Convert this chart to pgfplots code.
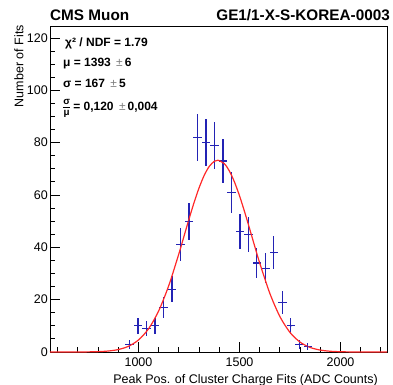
\documentclass[border=0pt]{standalone}
\usepackage{pgfplots}
\pgfplotsset{compat=1.18}
\usepackage{pgfplotstable}
\usepackage{amsmath}
\usepackage{fontspec}
\setmainfont{Liberation Sans}
\definecolor{rootblue}{RGB}{35,35,180}
\definecolor{rootred}{RGB}{255,40,40}
\newcommand{\tickfont}{\fontsize{12.5bp}{15bp}\selectfont}
\newcommand{\statfont}{\fontsize{12bp}{14bp}\selectfont\bfseries}
\newcommand{\pmg}{{\mdseries\color{gray}\,\textpm\,}}

\pgfplotstableread{
x     y   ex  ey
956   3   21  1.73
998   10  21  3.16
1040  9   21  3.00
1082  10  21  3.16
1124  17  21  4.12
1166  24  21  4.90
1208  41  21  6.40
1250  50  21  7.07
1292  82  21  9.06
1334  80  21  8.94
1376  79  21  8.89
1418  73  21  8.54
1460  61  21  7.81
1502  46  21  6.78
1544  45  21  6.71
1586  34  21  5.83
1628  32  21  5.66
1670  38  21  6.16
1712  19  21  4.36
1754  10  21  3.16
1796  3   21  1.73
1838  2   21  1.41
}\datatable

\pgfplotstableread{
x     y
562   0.0002
650   0.003
700   0.013
750   0.045
800   0.134
850   0.371
900   0.94
950   2.17
1000  4.60
1050  8.90
1100  15.73
1150  25.43
1200  37.58
1225  44.19
1250  50.80
1275  57.11
1300  62.77
1325  67.47
1350  70.91
1375  72.88
1393  73.30
1425  71.97
1450  69.15
1475  64.98
1500  59.70
1525  53.63
1550  47.12
1575  40.48
1600  34.00
1650  22.43
1700  13.53
1750  7.46
1800  3.76
1850  1.73
1900  0.73
1950  0.28
2000  0.10
2050  0.03
2100  0.009
2150  0.002
2230  0.0001
}\fittable

\begin{document}
\begin{tikzpicture}
\path[use as bounding box] (-50bp,-33bp) rectangle (343bp,352bp);
\begin{axis}[
  at={(0,0)}, anchor=south west,
  scale only axis,
  width=337bp, height=326bp,
  xmin=562, xmax=2230,
  ymin=0, ymax=124.6,
  axis line style={black, line width=0.9bp},
  xtick={1000,1500,2000},
  minor xtick={600,700,...,2200},
  ytick={0,20,...,120},
  minor ytick={5,10,...,120},
  tick align=inside,
  xtick pos=bottom, ytick pos=left,
  major tick length=9.5bp,
  minor tick length=5bp,
  tick style={line width=0.9bp, black},
  /pgf/number format/assume math mode=true,
  /pgf/number format/1000 sep={},
  xticklabel style={font=\tickfont, anchor=base, inner sep=0pt, yshift=-14bp},
  yticklabel style={font=\tickfont, anchor=east, inner sep=0pt, xshift=-2bp},
  clip=false,
]
\addplot[color=rootblue, line width=1.2bp, only marks, mark=*, mark size=0.01pt,
  error bars/.cd, x dir=both, x explicit, y dir=both, y explicit,
  error mark=none,
  error bar style={color=rootblue, line width=1.2bp}]
  table[x=x, y=y, x error=ex, y error=ey] {\datatable};
\addplot[rootred, line width=1.2bp, smooth, no marks] table[x=x, y=y] {\fittable};
\end{axis}
\node[anchor=base west, inner sep=0pt, font=\fontsize{15.3bp}{18bp}\selectfont\bfseries] at (0bp,331bp) {CMS Muon};
\node[anchor=base east, inner sep=0pt, font=\fontsize{15.3bp}{18bp}\selectfont\bfseries] at (340bp,331bp) {GE1/1-X-S-KOREA-0003};
\node[anchor=base west, inner sep=0pt, font=\statfont] at (15bp,305.3bp) {χ² / NDF = 1.79};
\node[anchor=base west, inner sep=0pt, font=\statfont] at (13bp,285.3bp) {μ = 1393 \pmg 6};
\node[anchor=base west, inner sep=0pt, font=\statfont] at (13bp,264.7bp) {σ = 167 \pmg 5};
\node[anchor=base west, inner sep=0pt, font=\statfont] at (12bp,241bp) {\raisebox{0.5bp}{\fontsize{14bp}{16bp}\selectfont$\frac{\text{σ}}{\text{μ}}$}\,= 0,120 \pmg 0,004};
\node[anchor=base east, inner sep=0pt, font=\tickfont] at (328bp,-31.5bp) {Peak Pos. of Cluster Charge Fits (ADC Counts)};
\node[rotate=90, anchor=base east, inner sep=0pt, font=\tickfont] at (-26.7bp,327bp) {Number of Fits};
\end{tikzpicture}
\end{document}
